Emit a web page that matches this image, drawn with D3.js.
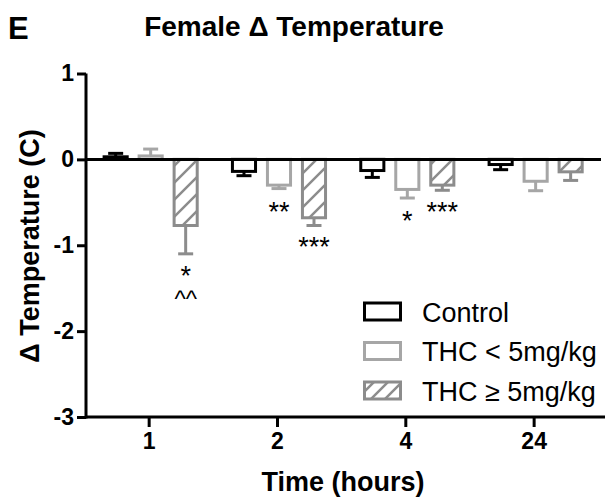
<!DOCTYPE html>
<html>
<head>
<meta charset="utf-8">
<script src="https://cdn.jsdelivr.net/npm/d3@7"></script>
<style>
  body { margin: 0; background: #fff; }
  svg { font-family: "Liberation Sans", Arial, sans-serif; }
</style>
</head>
<body>
<div id="chart"></div>
<script>
let W = 605, H = 498;

// data
let groups = ["1", "2", "4", "24"];
let series = ["Control", "THC < 5mg/kg", "THC \u2265 5mg/kg"];
let control = [0.03, -0.14, -0.13, -0.06];
let controlErr = [0.04, 0.05, 0.08, 0.06];
let thcLow = [0.04, -0.30, -0.35, -0.255];
let thcLowErr = [0.08, 0.04, 0.10, 0.11];
let thcHigh = [-0.77, -0.68, -0.30, -0.145];
let thcHighErr = [0.33, 0.09, 0.06, 0.10];
let sigLow = ["", "**", "*", ""];
let sigHigh = [["*", "^^"], ["***"], ["***"], []];
let yTicks = [1, 0, -1, -2, -3];

let colors = ["#000000", "#a6a6a6", "#8c8c8c"];
let values = [control, thcLow, thcHigh];
let errs = [controlErr, thcLowErr, thcHighErr];

let svg = d3.select("#chart").append("svg")
  .attr("width", W).attr("height", H);

let defs = svg.append("defs");
defs.append("pattern")
  .attr("id", "hatch")
  .attr("patternUnits", "userSpaceOnUse")
  .attr("width", 17).attr("height", 17)
  .append("path")
  .attr("d", "M0,17 L17,0 M-4,4 L4,-4 M13,21 L21,13")
  .attr("stroke", colors[2])
  .attr("stroke-width", 2.5);
defs.append("pattern")
  .attr("id", "hatchLegend")
  .attr("patternUnits", "userSpaceOnUse")
  .attr("width", 14).attr("height", 14)
  .append("path")
  .attr("d", "M0,14 L14,0 M-4,4 L4,-4 M10,18 L18,10")
  .attr("stroke", colors[2])
  .attr("stroke-width", 2.5);

let y = d3.scaleLinear().domain([-3, 1]).range([417, 73.5]);
let x = d3.scaleBand().domain(groups).range([85, 598.3]).padding(0);
let xs = d3.scaleBand().domain(d3.range(3)).range([0, 105])
  .paddingInner(0.34).paddingOuter(0.17);

let fills = ["#fff", "#fff", "url(#hatch)"];

// bars
for (let s = 0; s < 3; ++s) {
  let g = svg.append("g");
  let left = function (i) {
    return x(groups[i]) + x.bandwidth() / 2 - 52.5 + 1.5 + xs(s);
  };
  g.selectAll("rect")
    .data(values[s])
    .enter()
    .append("rect")
    .attr("x", function (d, i) { return left(i); })
    .attr("y", function (d) { return Math.min(y(d), y(0)); })
    .attr("width", xs.bandwidth())
    .attr("height", function (d) { return Math.abs(y(d) - y(0)); })
    .style("fill", fills[s])
    .style("stroke", colors[s])
    .style("stroke-width", 3);

  // one-sided error bars
  g.selectAll("line.err")
    .data(values[s])
    .enter()
    .append("line")
    .attr("x1", function (d, i) { return left(i) + xs.bandwidth() / 2; })
    .attr("x2", function (d, i) { return left(i) + xs.bandwidth() / 2; })
    .attr("y1", function (d) { return y(d); })
    .attr("y2", function (d, i) { return y(d < 0 ? d - errs[s][i] : d + errs[s][i]); })
    .style("stroke", colors[s])
    .style("stroke-width", 3);
  g.selectAll("line.cap")
    .data(values[s])
    .enter()
    .append("line")
    .attr("x1", function (d, i) { return left(i) + xs.bandwidth() / 2 - 7.5; })
    .attr("x2", function (d, i) { return left(i) + xs.bandwidth() / 2 + 7.5; })
    .attr("y1", function (d, i) { return y(d < 0 ? d - errs[s][i] : d + errs[s][i]); })
    .attr("y2", function (d, i) { return y(d < 0 ? d - errs[s][i] : d + errs[s][i]); })
    .style("stroke", colors[s])
    .style("stroke-width", 3);
}

// significance marks
let center = function (i, s) {
  return x(groups[i]) + x.bandwidth() / 2 - 52.5 + 1.5 + xs(s) + xs.bandwidth() / 2;
};
sigLow.forEach(function (t, i) {
  if (!t) return;
  svg.append("text")
    .attr("x", center(i, 1))
    .attr("y", y(thcLow[i] - thcLowErr[i]) + 32)
    .attr("text-anchor", "middle")
    .style("font-size", "27px")
    .text(t);
});
sigHigh.forEach(function (lines, i) {
  lines.forEach(function (t, k) {
    svg.append("text")
      .attr("x", center(i, 2))
      .attr("y", y(thcHigh[i] - thcHighErr[i]) + 31 + k * 22)
      .attr("text-anchor", "middle")
      .style("font-size", k ? "24px" : "27px")
      .text(t);
  });
});

// zero line
svg.append("line")
  .attr("x1", 86).attr("x2", 601)
  .attr("y1", y(0)).attr("y2", y(0))
  .style("stroke", "#000").style("stroke-width", 3);

// axes
let yAxis = svg.append("g")
  .attr("transform", "translate(86,0)")
  .call(d3.axisLeft(y).tickValues(yTicks).tickSize(9).tickPadding(3)
    .tickFormat(d3.format("d")));
let xAxis = svg.append("g")
  .attr("transform", "translate(0,417)")
  .call(d3.axisBottom(x).tickSize(10).tickPadding(6));

[yAxis, xAxis].forEach(function (a) {
  a.select(".domain").remove();
  a.selectAll(".tick line").style("stroke", "#000").style("stroke-width", 3);
  a.selectAll(".tick text")
    .style("font-family", "Liberation Sans, Arial, sans-serif")
    .style("font-size", "23px")
    .style("font-weight", "bold")
    .style("fill", "#000");
});
xAxis.selectAll(".tick text").attr("dy", "0.71em");
yAxis.selectAll(".tick text").text(function (d) { return d < 0 ? "-" + Math.abs(d) : d; });

svg.append("line")
  .attr("x1", 86).attr("x2", 605).attr("y1", 417).attr("y2", 417)
  .style("stroke", "#000").style("stroke-width", 3);
svg.append("line")
  .attr("x1", 86).attr("x2", 86).attr("y1", 73.5).attr("y2", 418.5)
  .style("stroke", "#000").style("stroke-width", 3);

// titles
svg.append("text")
  .attr("x", 8).attr("y", 39)
  .style("font-size", "31px").style("font-weight", "bold")
  .text("E");
svg.append("text")
  .attr("x", 294).attr("y", 36)
  .attr("text-anchor", "middle")
  .style("font-size", "28px").style("font-weight", "bold")
  .text("Female \u0394 Temperature");
svg.append("text")
  .attr("x", 343).attr("y", 491)
  .attr("text-anchor", "middle")
  .style("font-size", "27px").style("font-weight", "bold")
  .text("Time (hours)");
svg.append("text")
  .attr("transform", "translate(39,246) rotate(-90)")
  .attr("text-anchor", "middle")
  .style("font-size", "27px").style("font-weight", "bold")
  .text("\u0394 Temperature (C)");

// legend
let legFills = ["#fff", "#fff", "url(#hatchLegend)"];
let leg = svg.append("g");
series.forEach(function (name, s) {
  let cy = 311.5 + s * 39.5;
  leg.append("rect")
    .attr("x", 364.5).attr("y", cy - 8.5)
    .attr("width", 36).attr("height", 17)
    .style("fill", legFills[s])
    .style("stroke", colors[s])
    .style("stroke-width", 3);
  leg.append("text")
    .attr("x", 422).attr("y", cy + 10)
    .style("font-size", "27px")
    .text(name);
});
</script>
</body>
</html>
